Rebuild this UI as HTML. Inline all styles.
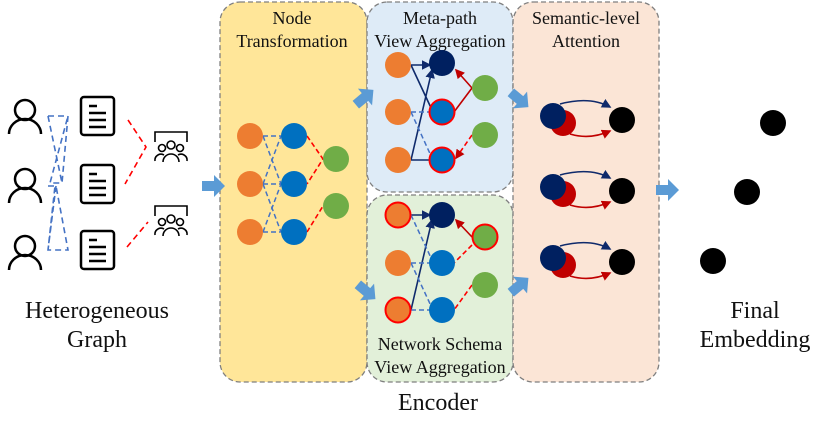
<!DOCTYPE html>
<html><head><meta charset="utf-8"><style>
body{margin:0;background:#fff}
svg{display:block}
text{font-family:"Liberation Serif",serif;fill:#111}
</style></head><body>
<svg width="830" height="429" viewBox="0 0 830 429" xmlns="http://www.w3.org/2000/svg">
<defs>
<marker id="an" markerWidth="6" markerHeight="6" refX="5" refY="3" orient="auto"><path d="M0,0 L6,3 L0,6z" fill="#0f2a6b"/></marker>
<marker id="ar" markerWidth="6" markerHeight="6" refX="5" refY="3" orient="auto"><path d="M0,0 L6,3 L0,6z" fill="#c00000"/></marker>
<g id="blk"><path d="M-12,-5 h12 v-6 l11,11 l-11,11 v-6 h-12z" fill="#5b9bd5"/></g>
</defs>
<rect x="220" y="2" width="147" height="380" rx="20" fill="#ffe699" stroke="#7f7f7f" stroke-dasharray="5,3" stroke-width="1.3"/>
<rect x="367" y="2" width="146" height="190" rx="20" fill="#deebf7" stroke="#7f7f7f" stroke-dasharray="5,3" stroke-width="1.3"/>
<rect x="367" y="195" width="146" height="187" rx="20" fill="#e2f0d9" stroke="#7f7f7f" stroke-dasharray="5,3" stroke-width="1.3"/>
<rect x="513" y="2" width="146" height="380" rx="20" fill="#fbe5d6" stroke="#7f7f7f" stroke-dasharray="5,3" stroke-width="1.3"/>

<text x="292" y="24" font-size="18" text-anchor="middle">Node</text>
<text x="292" y="47" font-size="18" text-anchor="middle">Transformation</text>
<text x="440" y="24" font-size="18" text-anchor="middle">Meta-path</text>
<text x="440" y="47" font-size="18" text-anchor="middle">View Aggregation</text>
<text x="440" y="350" font-size="18" text-anchor="middle">Network Schema</text>
<text x="440" y="373" font-size="18" text-anchor="middle">View Aggregation</text>
<text x="586" y="24" font-size="18" text-anchor="middle">Semantic-level</text>
<text x="586" y="47" font-size="18" text-anchor="middle">Attention</text>
<text x="97" y="318" font-size="24" text-anchor="middle">Heterogeneous</text>
<text x="97" y="347" font-size="24" text-anchor="middle">Graph</text>
<text x="438" y="410" font-size="24" text-anchor="middle">Encoder</text>
<text x="755" y="318" font-size="24" text-anchor="middle">Final</text>
<text x="755" y="347" font-size="24" text-anchor="middle">Embedding</text>

<g fill="none" stroke="#000" stroke-width="2.5">
<circle cx="25" cy="110" r="10"/><path d="M9,134 a16,15 0 0 1 32,0"/>
<circle cx="25" cy="179" r="10"/><path d="M9,203 a16,15 0 0 1 32,0"/>
<circle cx="25" cy="246" r="10"/><path d="M9,270 a16,15 0 0 1 32,0"/>
<rect x="81" y="97" width="33" height="38" rx="3"/>
<rect x="81" y="165" width="33" height="38" rx="3"/>
<rect x="81" y="231" width="33" height="38" rx="3"/>
</g>
<g stroke="#000" stroke-width="2.5">
<path d="M89,106h8M89,113h17M89,120h17M89,127h17"/>
<path d="M89,174h8M89,181h17M89,188h17M89,195h17"/>
<path d="M89,240h8M89,247h17M89,254h17M89,261h17"/>
</g>
<g fill="none" stroke="#000" stroke-width="1.6">
<path d="M155,142v-10h32v10"/><circle cx="171" cy="145" r="4"/><circle cx="162" cy="148" r="3.5"/><circle cx="180" cy="148" r="3.5"/>
<path d="M163,162a8,8 0 0 1 16,0M155,161a6,6 0 0 1 9,-6M187,161a6,6 0 0 0 -9,-6"/>
<path d="M155,216v-10h32v10"/><circle cx="171" cy="219" r="4"/><circle cx="162" cy="222" r="3.5"/><circle cx="180" cy="222" r="3.5"/>
<path d="M163,236a8,8 0 0 1 16,0M155,235a6,6 0 0 1 9,-6M187,235a6,6 0 0 0 -9,-6"/>
</g>
<g fill="none" stroke="#4472c4" stroke-width="1.6" stroke-dasharray="6,4">
<path d="M48,116H68L62,183H50L68,116M48,116L62,183"/>
<path d="M48,186H56L68,250H48L55,186M56,186L48,250"/>
</g>
<g fill="none" stroke="#ff0000" stroke-width="1.6" stroke-dasharray="6,4">
<path d="M128,120L146,147L125,184"/><path d="M127,247L148,222"/>
</g>

<use href="#blk" transform="translate(214,186)"/>
<use href="#blk" transform="translate(365,97) rotate(-40)"/>
<use href="#blk" transform="translate(367,292) rotate(40)"/>
<use href="#blk" transform="translate(520,100) rotate(40)"/>
<use href="#blk" transform="translate(520,285) rotate(-40)"/>
<use href="#blk" transform="translate(668,190)"/>

<g fill="none" stroke="#4472c4" stroke-width="1.5" stroke-dasharray="5,3">
<path d="M263,136H281M263,184H281M263,232H281M263,136L281,184M263,184L281,136M263,184L281,232M263,232L281,184"/>
</g>
<g fill="none" stroke="#ff0000" stroke-width="1.6" stroke-dasharray="5,3">
<path d="M307,136L323,159L307,184M307,232L323,206"/>
</g>
<g fill="#ed7d31"><circle cx="250" cy="136" r="13"/><circle cx="250" cy="184" r="13"/><circle cx="250" cy="232" r="13"/></g>
<g fill="#0070c0"><circle cx="294" cy="136" r="13"/><circle cx="294" cy="184" r="13"/><circle cx="294" cy="232" r="13"/></g>
<g fill="#70ad47"><circle cx="336" cy="159" r="13"/><circle cx="336" cy="206" r="13"/></g>

<g fill="none" stroke="#0f2a6b" stroke-width="1.6">
<path d="M411,65H430" marker-end="url(#an)"/><path d="M411,65L432,110"/><path d="M411,160H430"/><path d="M411,160L432,70" marker-end="url(#an)"/>
</g>
<g fill="none" stroke="#4472c4" stroke-width="1.5" stroke-dasharray="5,3"><path d="M411,112H430M411,112L432,158"/></g>
<path d="M454,112L472,88L456,70" fill="none" stroke="#c00000" stroke-width="1.6" marker-end="url(#ar)"/>
<path d="M472,135L456,158" fill="none" stroke="#ff0000" stroke-width="1.6" stroke-dasharray="5,3" marker-end="url(#ar)"/>
<g fill="#ed7d31"><circle cx="398" cy="65" r="13"/><circle cx="398" cy="112" r="13"/><circle cx="398" cy="160" r="13"/></g>
<circle cx="442" cy="63" r="13" fill="#002060"/>
<g fill="#0070c0" stroke="#ff0000" stroke-width="2"><circle cx="442" cy="112" r="12.5"/><circle cx="442" cy="160" r="12.5"/></g>
<g fill="#70ad47"><circle cx="485" cy="88" r="13"/><circle cx="485" cy="135" r="13"/></g>

<g fill="none" stroke="#0f2a6b" stroke-width="1.6">
<path d="M411,215H430" marker-end="url(#an)"/><path d="M411,310L432,220" marker-end="url(#an)"/>
</g>
<g fill="none" stroke="#4472c4" stroke-width="1.5" stroke-dasharray="5,3"><path d="M411,215L432,260M411,263H430M411,263L432,308M411,310H430"/></g>
<path d="M472,237L456,220" fill="none" stroke="#c00000" stroke-width="1.6" marker-end="url(#ar)"/>
<path d="M472,245L454,263M472,285L454,310" fill="none" stroke="#ff0000" stroke-width="1.6" stroke-dasharray="5,3"/>
<g fill="#ed7d31"><circle cx="398" cy="215" r="12.5" stroke="#ff0000" stroke-width="2"/><circle cx="398" cy="263" r="13"/><circle cx="398" cy="310" r="12.5" stroke="#ff0000" stroke-width="2"/></g>
<circle cx="442" cy="215" r="13" fill="#002060"/>
<g fill="#0070c0"><circle cx="442" cy="263" r="13"/><circle cx="442" cy="310" r="13"/></g>
<circle cx="485" cy="237" r="12.5" fill="#70ad47" stroke="#ff0000" stroke-width="2"/>
<circle cx="485" cy="285" r="13" fill="#70ad47"/>

<g id="pair">
<circle cx="563" cy="123" r="13" fill="#c00000"/>
<circle cx="553" cy="116" r="13" fill="#002060"/>
<circle cx="622" cy="120" r="13" fill="#000"/>
<path d="M560,104Q590,96 610,107" fill="none" stroke="#0f2a6b" stroke-width="1.6" marker-end="url(#an)"/>
<path d="M570,134Q590,140 610,131" fill="none" stroke="#c00000" stroke-width="1.6" marker-end="url(#ar)"/>
</g>
<use href="#pair" transform="translate(0,71)"/>
<use href="#pair" transform="translate(0,142)"/>

<circle cx="773" cy="123" r="13" fill="#000"/>
<circle cx="747" cy="192" r="13" fill="#000"/>
<circle cx="713" cy="261" r="13" fill="#000"/>
</svg>
</body></html>
